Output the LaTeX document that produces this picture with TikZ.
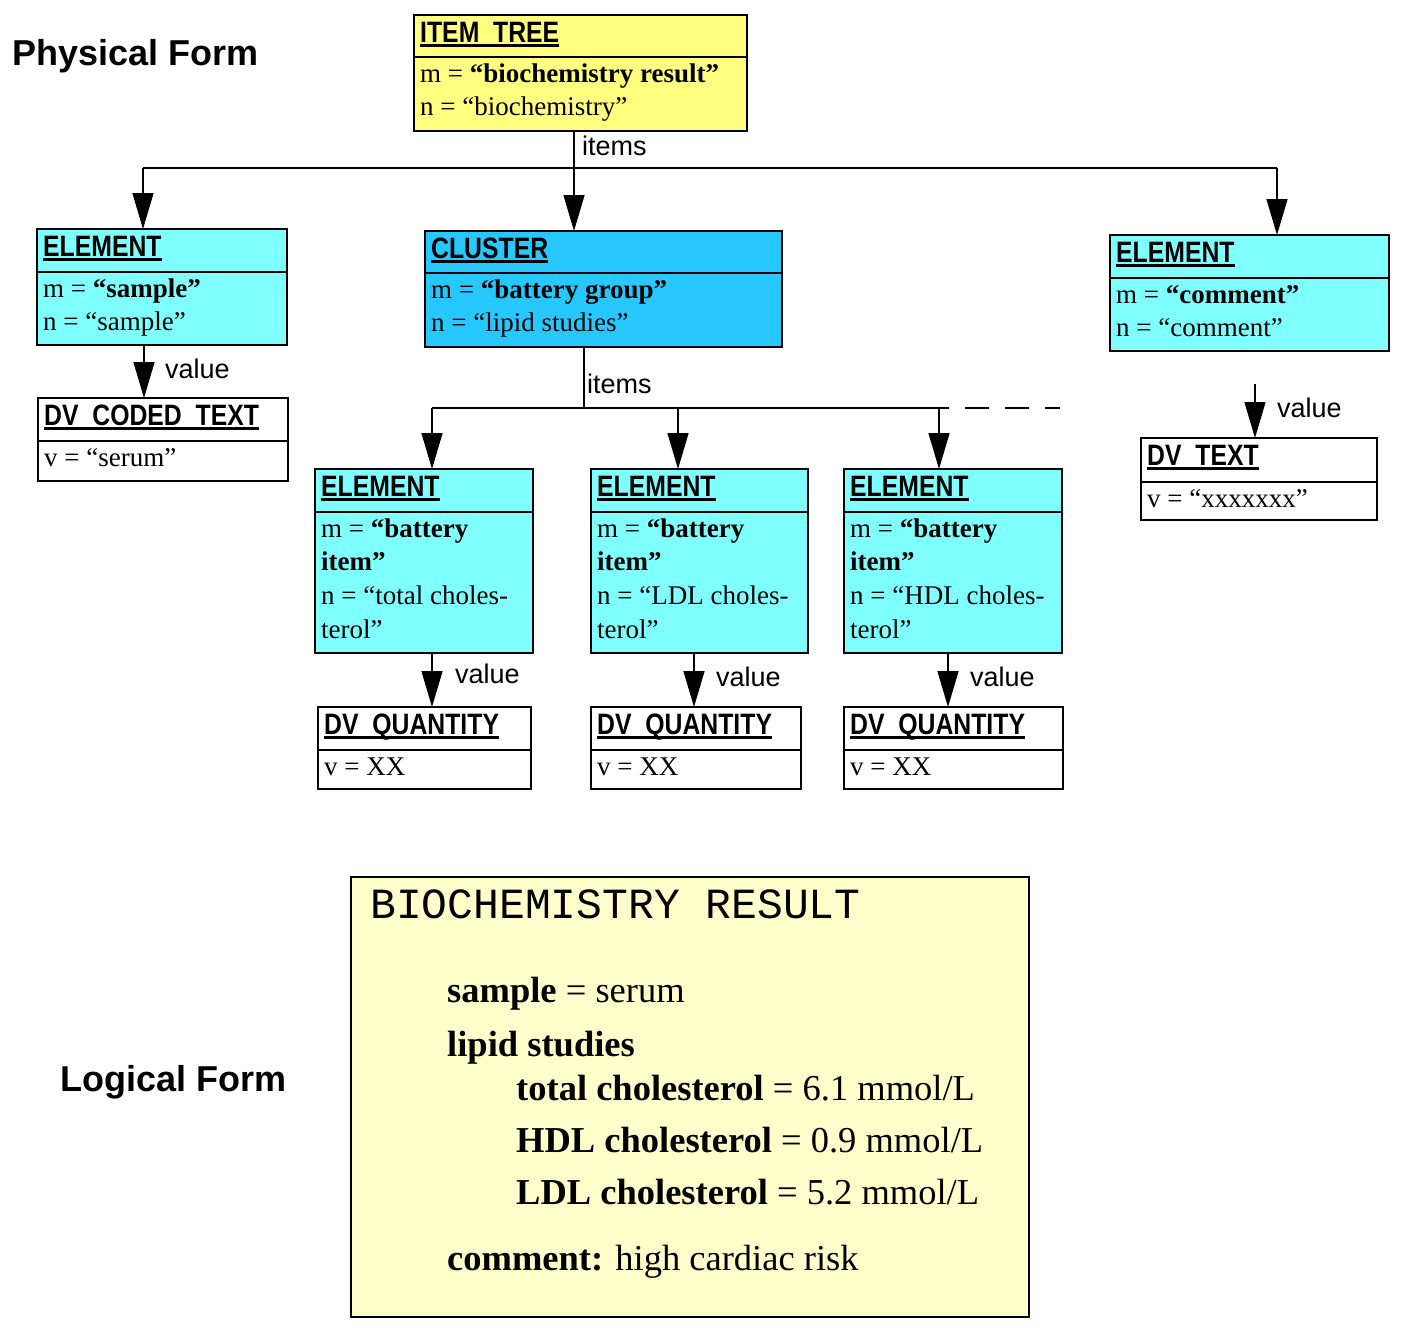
\documentclass[tikz,border=0pt]{standalone}
\usepackage{fontspec}
\setmainfont{Liberation Serif}
\newfontfamily\hdrfont[FakeStretch=0.84]{Liberation Sans}
\newfontfamily\lblfont{Liberation Sans}
\newfontfamily\cfont{Liberation Mono}
\usetikzlibrary{arrows.meta}
\definecolor{treeyellow}{RGB}{255,255,128}
\definecolor{elemcyan}{RGB}{128,255,255}
\definecolor{clusblue}{RGB}{38,200,255}
\definecolor{logyellow}{RGB}{255,255,204}
\newcommand\hd[1]{\setbox0\hbox{#1}\rlap{\rule[-4.5pt]{\wd0}{3pt}}\box0}
\newcommand\bodylines[1]{\vtop{\baselineskip=33.7pt\lineskiplimit=-100pt\halign{##\hfil\cr #1}}}
% name, x1, y1, x2, y2, ydiv, fill, header, body
\newcommand\umlbox[9]{%
  \node[boxsty, fill=#7, minimum width={#4-#2}, minimum height={#5-#3}, anchor=north west] (#1) at (#2,#3) {};
  \draw[boxline] (#2,#6) -- (#4,#6);
  \node[hdrsty, anchor=base west] (#1-h) at (#2+6,#3+27.5) {\hd{#8}};
  \node[bodysty, anchor=base west] (#1-b) at (#2+6,#6+25) {\bodylines{#9}};
}
\tikzset{
  boxsty/.style={draw, line width=1.2pt, inner sep=0pt, outer sep=0pt},
  boxline/.style={line width=1.2pt},
  hdrsty/.style={inner sep=0pt, font=\hdrfont\bfseries\fontsize{29.5}{32}\selectfont},
  bodysty/.style={inner sep=0pt, font=\fontsize{27}{33.7}\selectfont},
  conn/.style={line width=1.4pt},
  arr/.style={line width=1.4pt, -{Triangle[width=21pt,length=36pt]}},
  lbl/.style={inner sep=0pt, anchor=base west, font=\lblfont\fontsize{27}{30}\selectfont},
  ttl/.style={inner sep=0pt, anchor=base west, font=\lblfont\bfseries\fontsize{36}{40}\selectfont},
  logtxt/.style={inner sep=0pt, anchor=base west, font=\fontsize{36.5}{40}\selectfont},
}
\begin{document}
\begin{tikzpicture}[x=1pt,y=-1pt]
\useasboundingbox (0,0) rectangle (1409,1334);

% titles
\node[ttl] (phys) at (12,65) {Physical Form};
\node[ttl] (logi) at (60,1091) {Logical Form};

% boxes
\umlbox{tree}{414}{15}{747}{131}{57}{treeyellow}{ITEM\_TREE}{m = \textbf{“biochemistry result”}\cr n = “biochemistry”\cr}
\umlbox{samp}{37}{229}{287}{345}{272}{elemcyan}{ELEMENT}{m = \textbf{“sample”}\cr n = “sample”\cr}
\umlbox{coded}{38}{398}{288}{481}{441}{white}{DV\_CODED\_TEXT}{v = “serum”\cr}
\umlbox{clus}{425}{231}{782}{347}{273}{clusblue}{CLUSTER}{m = \textbf{“battery group”}\cr n = “lipid studies”\cr}
\umlbox{comm}{1110}{235}{1389}{351}{278}{elemcyan}{ELEMENT}{m = \textbf{“comment”}\cr n = “comment”\cr}
\umlbox{dvt}{1141}{438}{1377}{520}{482}{white}{DV\_TEXT}{v = “xxxxxxx”\cr}
\umlbox{tot}{315}{469}{533}{653}{512}{elemcyan}{ELEMENT}{m = \textbf{“battery}\cr \textbf{item”}\cr n = “total choles-\cr terol”\cr}
\umlbox{ldl}{591}{469}{808}{653}{512}{elemcyan}{ELEMENT}{m = \textbf{“battery}\cr \textbf{item”}\cr n = “LDL choles-\cr terol”\cr}
\umlbox{hdl}{844}{469}{1062}{653}{512}{elemcyan}{ELEMENT}{m = \textbf{“battery}\cr \textbf{item”}\cr n = “HDL choles-\cr terol”\cr}
\umlbox{qa}{318}{707}{531}{789}{750}{white}{DV\_QUANTITY}{v = XX\cr}
\umlbox{qb}{591}{707}{801}{789}{750}{white}{DV\_QUANTITY}{v = XX\cr}
\umlbox{qc}{844}{707}{1063}{789}{750}{white}{DV\_QUANTITY}{v = XX\cr}

% top level connectors
\coordinate (bl) at (143,168);
\coordinate (bc) at (574,168);
\coordinate (br) at (1277,168);
\draw[conn] (bc |- tree.south) -- (bc);
\draw[conn] (bl) -- (br);
\draw[arr] (bl) -- (bl |- samp.north);
\draw[arr] (bc) -- (bc |- clus.north);
\draw[arr] (br) -- (br |- comm.north);
\node[lbl] (it1) at (582,155) {items};

% sample value
\coordinate (sv) at (144,0);
\draw[arr] (sv |- samp.south) -- (sv |- coded.north);
\node[lbl] (v0) at (165,378) {value};

% cluster connectors
\coordinate (cj) at (584,408);
\coordinate (c1) at (432,408);
\coordinate (c2) at (678,408);
\coordinate (c3) at (939,408);
\coordinate (cs) at (949,408);
\coordinate (ce) at (1060,408);
\draw[conn] (cj |- clus.south) -- (cj);
\draw[conn] (c1) -- (cs);
\draw[conn, dash pattern=on 24pt off 16pt, dash phase=24pt] (cs) -- (ce);
\draw[arr] (c1) -- (c1 |- tot.north);
\draw[arr] (c2) -- (c2 |- ldl.north);
\draw[arr] (c3) -- (c3 |- hdl.north);
\node[lbl] (it2) at (587,393) {items};

% value arrows
\coordinate (va) at (432,0);
\coordinate (vb) at (694,0);
\coordinate (vc) at (948,0);
\draw[arr] (va |- tot.south) -- (va |- qa.north);
\draw[arr] (vb |- ldl.south) -- (vb |- qb.north);
\draw[arr] (vc |- hdl.south) -- (vc |- qc.north);
\node[lbl] (v1) at (455,683) {value};
\node[lbl] (v2) at (716,686) {value};
\node[lbl] (v3) at (970,686) {value};

% comment value (free start)
\coordinate (vd) at (1255,384);
\draw[arr] (vd) -- (vd |- dvt.north);
\node[lbl] (v4) at (1277,417) {value};

% logical form
\node[boxsty, fill=logyellow, minimum width=678, minimum height=440, anchor=north west] (logbox) at (351,877) {};
\node[inner sep=0pt, anchor=base west, font=\cfont\fontsize{43}{45}\selectfont] (lt) at (370,918) {BIOCHEMISTRY RESULT};
\node[logtxt] (l1) at (447,1002) {\textbf{sample} = serum};
\node[logtxt] (l2) at (447,1056) {\textbf{lipid studies}};
\node[logtxt] (l3) at (516,1100) {\textbf{total cholesterol} = 6.1 mmol/L};
\node[logtxt] (l4) at (516,1152) {\textbf{HDL cholesterol} = 0.9 mmol/L};
\node[logtxt] (l5) at (516,1204) {\textbf{LDL cholesterol} = 5.2 mmol/L};
\node[logtxt] (l6) at (447,1270) {\textbf{comment:} high cardiac risk};
\end{tikzpicture}
\end{document}
